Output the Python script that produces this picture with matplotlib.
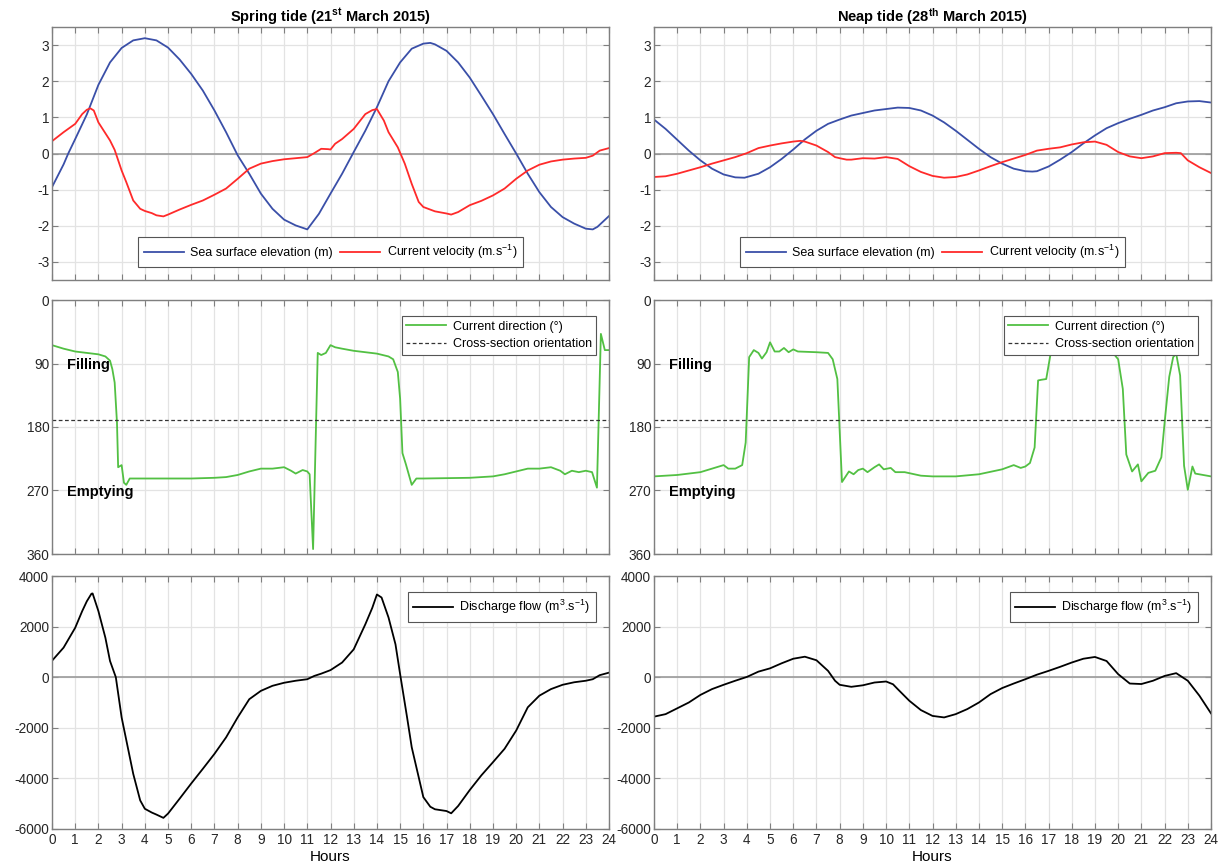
import numpy as np
import matplotlib.pyplot as plt

plt.rcParams['font.family'] = ['Liberation Sans', 'DejaVu Sans']
plt.rcParams['mathtext.fontset'] = 'custom'
plt.rcParams['mathtext.rm'] = 'Liberation Sans'
plt.rcParams['mathtext.it'] = 'Liberation Sans'
plt.rcParams['mathtext.bf'] = 'Liberation Sans:bold'
plt.rcParams['axes.unicode_minus'] = False

# ---- spring tide (21st March 2015) ----
sp_elev_t = [0, 0.5, 0.7, 1, 1.5, 2, 2.5, 3, 3.5, 4, 4.5, 5, 5.5, 6, 6.5, 7, 7.5, 8, 8.5,
             9, 9.5, 10, 10.5, 11, 11.5, 12, 12.5, 13, 13.5, 14, 14.5, 15, 15.5, 16,
             16.3, 16.5, 17, 17.5, 18, 18.5, 19, 19.5, 20, 20.5, 21, 21.5, 22, 22.5,
             23, 23.3, 23.5, 24]
sp_elev = [-0.93, -0.3, 0.0, 0.4, 1.08, 1.9, 2.52, 2.92, 3.13, 3.19, 3.13, 2.93, 2.6, 2.2,
           1.74, 1.19, 0.59, -0.05, -0.56, -1.11, -1.53, -1.83, -1.99, -2.1, -1.67, -1.11,
           -0.56, 0.04, 0.63, 1.28, 2.0, 2.52, 2.9, 3.04, 3.06, 3.02, 2.84, 2.52, 2.1, 1.6,
           1.09, 0.54, 0.0, -0.56, -1.07, -1.48, -1.76, -1.94, -2.08, -2.1, -2.03, -1.73]

sp_vel_t = [0, 0.5, 1, 1.3, 1.5, 1.65, 1.8, 2, 2.5, 2.7, 3, 3.2, 3.5, 3.8, 4, 4.3, 4.5,
            4.8, 5, 5.5, 6, 6.5, 7, 7.5, 8, 8.5, 9, 9.5, 10, 10.5, 11, 11.3, 11.6, 11.9,
            12, 12.2, 12.5, 13, 13.5, 13.8, 14, 14.3, 14.5, 14.9, 15.2, 15.5, 15.8, 16,
            16.5, 17, 17.2, 17.5, 18, 18.5, 19, 19.5, 20, 20.5, 21, 21.5, 22, 22.5, 23,
            23.3, 23.6, 24]
sp_vel = [0.34, 0.59, 0.82, 1.09, 1.21, 1.25, 1.19, 0.86, 0.36, 0.1, -0.47, -0.79, -1.3,
          -1.53, -1.59, -1.65, -1.71, -1.74, -1.69, -1.55, -1.42, -1.3, -1.14, -0.97,
          -0.7, -0.42, -0.28, -0.21, -0.16, -0.13, -0.1, 0.01, 0.13, 0.12, 0.11, 0.27,
          0.4, 0.68, 1.09, 1.2, 1.23, 0.91, 0.59, 0.17, -0.28, -0.84, -1.34, -1.48, -1.6,
          -1.66, -1.69, -1.62, -1.43, -1.31, -1.16, -0.97, -0.7, -0.47, -0.31, -0.22,
          -0.17, -0.14, -0.12, -0.06, 0.08, 0.15]

sp_dir_t = [0, 0.5, 1, 1.5, 2, 2.3, 2.5, 2.6, 2.7, 2.8, 2.85, 3, 3.1, 3.2, 3.35, 4, 5, 6,
            7, 7.5, 8, 8.5, 9, 9.5, 10, 10.3, 10.5, 10.8, 11, 11.1, 11.25, 11.45, 11.6,
            11.8, 12, 12.2, 12.5, 13, 14, 14.5, 14.7, 14.9, 15, 15.1, 15.25, 15.5, 15.7,
            16, 18, 19, 19.5, 20, 20.5, 21, 21.5, 21.9, 22.1, 22.4, 22.7, 23, 23.27,
            23.48, 23.65, 23.82, 24]
sp_dir = [64, 69, 73, 75, 77, 80, 86, 98, 117, 174, 237, 234, 259, 262, 253, 253, 253,
          253, 252, 251, 248, 243, 239, 239, 237, 242, 246, 241, 243, 247, 353, 75, 78,
          75, 64, 67, 69, 72, 76, 80, 84, 102, 140, 217, 233, 262, 253, 253, 252, 250,
          247, 243, 239, 239, 237, 242, 247, 242, 244, 242, 244, 266, 48, 71, 71]

sp_q_t = [0, 0.5, 1, 1.3, 1.5, 1.7, 1.75, 2, 2.3, 2.5, 2.75, 3, 3.5, 3.8, 4, 4.3, 4.5, 4.8,
          5, 5.5, 6, 6.5, 7, 7.5, 8, 8.5, 9, 9.5, 10, 10.5, 11, 11.3, 11.6, 12, 12.5, 13,
          13.5, 13.8, 14, 14.2, 14.5, 14.8, 15, 15.3, 15.5, 16, 16.3, 16.5, 17, 17.2,
          17.5, 18, 18.5, 19, 19.5, 20, 20.5, 21, 21.5, 22, 22.5, 23, 23.3, 23.6, 24]
sp_q = [650, 1170, 1955, 2610, 3000, 3300, 3310, 2610, 1560, 640, 0, -1590, -3820, -4870,
        -5200, -5350, -5430, -5560, -5390, -4800, -4200, -3620, -3030, -2380, -1590, -870,
        -540, -340, -220, -140, -80, 50, 140, 280, 580, 1100, 2090, 2740, 3270, 3150,
        2360, 1300, 120, -1590, -2770, -4740, -5120, -5220, -5290, -5380, -5090, -4460,
        -3880, -3360, -2830, -2110, -1190, -730, -470, -300, -200, -140, -80, 80, 180]

# ---- neap tide (28th March 2015) ----
np_elev_t = [0, 0.5, 1, 1.5, 2, 2.5, 3, 3.5, 3.9, 4.5, 5, 5.5, 6, 6.5, 7, 7.5, 8, 8.5, 9,
             9.5, 10, 10.5, 11, 11.5, 12, 12.5, 13, 13.5, 14, 14.5, 15, 15.5, 16, 16.3,
             16.5, 17, 17.5, 18, 18.5, 19, 19.5, 20, 20.5, 21, 21.5, 22, 22.5, 23, 23.5, 24]
np_elev = [0.94, 0.68, 0.38, 0.08, -0.19, -0.42, -0.58, -0.66, -0.67, -0.56, -0.38, -0.15,
           0.11, 0.39, 0.63, 0.82, 0.94, 1.05, 1.12, 1.19, 1.23, 1.27, 1.26, 1.19, 1.05,
           0.86, 0.63, 0.38, 0.13, -0.1, -0.28, -0.42, -0.49, -0.5, -0.49, -0.36, -0.17,
           0.04, 0.28, 0.5, 0.7, 0.84, 0.96, 1.07, 1.19, 1.28, 1.39, 1.44, 1.45, 1.41]

np_vel_t = [0, 0.5, 1, 1.5, 2, 2.5, 3, 3.5, 4, 4.5, 5, 5.5, 6, 6.3, 6.5, 7, 7.5, 7.8, 8,
            8.3, 8.5, 9, 9.5, 10, 10.5, 11, 11.5, 12, 12.5, 13, 13.5, 14, 14.5, 15, 15.5,
            16, 16.5, 17, 17.5, 18, 18.5, 19, 19.5, 20, 20.5, 21, 21.5, 22, 22.5, 22.7,
            23, 23.5, 24]
np_vel = [-0.65, -0.63, -0.56, -0.47, -0.38, -0.28, -0.19, -0.1, 0.01, 0.15, 0.22, 0.28,
          0.33, 0.35, 0.33, 0.22, 0.04, -0.1, -0.13, -0.17, -0.17, -0.13, -0.14, -0.1,
          -0.15, -0.35, -0.51, -0.62, -0.67, -0.65, -0.58, -0.47, -0.35, -0.24, -0.14,
          -0.04, 0.08, 0.13, 0.17, 0.25, 0.31, 0.33, 0.24, 0.04, -0.08, -0.13, -0.08, 0.01,
          0.02, 0.01, -0.19, -0.38, -0.54]

np_dir_t = [0, 1, 2, 2.5, 3, 3.2, 3.5, 3.8, 3.95, 4.1, 4.3, 4.5, 4.65, 4.85, 5, 5.2, 5.4,
            5.6, 5.8, 6, 6.2, 7, 7.5, 7.7, 7.9, 8.1, 8.4, 8.6, 8.8, 9, 9.2, 9.5, 9.7, 9.9,
            10.2, 10.4, 10.8, 11.5, 12, 13, 14, 15, 15.5, 15.8, 16, 16.2, 16.4, 16.55,
            16.7, 16.9, 17.1, 17.3, 17.5, 18, 19, 19.8, 20, 20.2, 20.35, 20.6, 20.85, 21,
            21.3, 21.6, 21.86, 22.03, 22.2, 22.37, 22.5, 22.67, 22.84, 23.0, 23.2, 23.32,
            24]
np_dir = [250, 248, 244, 239, 234, 239, 239, 234, 202, 81, 71, 75, 83, 74, 60, 73, 73, 68,
          74, 70, 73, 74, 75, 84, 112, 258, 243, 247, 241, 239, 244, 237, 233, 240, 238,
          244, 244, 249, 250, 250, 247, 240, 234, 238, 236, 231, 209, 114, 113, 112, 74,
          74, 69, 71, 74, 76, 84, 126, 219, 243, 233, 257, 245, 242, 223, 164, 109, 81,
          76, 107, 235, 269, 236, 246, 250]

np_q_t = [0, 0.5, 1, 1.5, 2, 2.5, 3, 3.5, 4, 4.5, 5, 5.5, 6, 6.5, 7, 7.5, 7.8, 8, 8.5, 9,
          9.5, 10, 10.3, 10.5, 11, 11.5, 12, 12.5, 13, 13.5, 14, 14.5, 15, 15.5, 16, 16.5,
          17, 17.5, 18, 18.5, 19, 19.5, 20, 20.5, 21, 21.5, 22, 22.5, 23, 23.5, 24]
np_q = [-1560, -1460, -1230, -1000, -700, -470, -300, -140, 10, 220, 350, 550, 730, 810,
        670, 250, -140, -300, -380, -320, -210, -170, -280, -470, -930, -1300, -1530,
        -1590, -1460, -1260, -1000, -670, -430, -250, -80, 100, 250, 410, 580, 730, 800,
        640, 120, -250, -270, -140, 50, 160, -140, -730, -1430]

cross_section = 170
hours = np.arange(0, 25)

c_blue = '#3a4fa8'
c_red = '#ff2a2a'
c_green = '#52c043'
c_axis = '#7f7f7f'

fig = plt.figure(figsize=(12.2, 8.68), dpi=100)
W, H = 1220, 868
cols = [(52, 609), (654, 1211)]
rows = [(27, 280), (300, 554), (576, 829)]


def make_ax(c, r):
    x0, x1 = cols[c]
    y0, y1 = rows[r]
    ax = fig.add_axes([x0 / W, 1 - y1 / H, (x1 - x0) / W, (y1 - y0) / H])
    ax.set_xlim(0, 24)
    ax.set_xticks(hours)
    ax.grid(True, color='#e3e3e3', lw=0.9)
    ax.set_axisbelow(True)
    for s in ax.spines.values():
        s.set_color(c_axis)
        s.set_linewidth(1.0)
    ax.tick_params(direction='in', length=4, color=c_axis, top=True, right=True,
                   labelsize=9.8, labelcolor='#262626', pad=3)
    ax.tick_params(axis='y', pad=2)
    return ax


def frame_legend(ax, **kw):
    leg = ax.legend(fontsize=9, fancybox=False, framealpha=1, edgecolor='#555555',
                    handlelength=3.2, handletextpad=0.5, **kw)
    leg.get_frame().set_linewidth(0.8)
    return leg


sets = [
    ('Spring tide (21$^{\\mathbf{st}}$ March 2015)', sp_elev_t, sp_elev, sp_vel_t, sp_vel,
     sp_dir_t, sp_dir, sp_q_t, sp_q),
    ('Neap tide (28$^{\\mathbf{th}}$ March 2015)', np_elev_t, np_elev, np_vel_t, np_vel,
     np_dir_t, np_dir, np_q_t, np_q),
]

for c, (title, et, e, vt, v, dt, d, qt, q) in enumerate(sets):
    # water level and velocity
    ax = make_ax(c, 0)
    ax.axhline(0, color='#9a9a9a', lw=1.2, zorder=1)
    ax.plot(et, e, color=c_blue, lw=1.3, label='Sea surface elevation (m)')
    ax.plot(vt, v, color=c_red, lw=1.3, label='Current velocity (m.s$^{-1}$)')
    ax.set_ylim(-3.5, 3.5)
    ax.set_yticks(range(-3, 4))
    ax.set_xticklabels([])
    ax.set_title(title, fontsize=10.5, fontweight='bold', pad=4)
    frame_legend(ax, loc='lower center', bbox_to_anchor=(0.5, 0.025), ncol=2,
                 columnspacing=0.6, borderpad=0.5)

    # direction
    ax = make_ax(c, 1)
    ax.plot(dt, d, color=c_green, lw=1.3, label='Current direction (°)')
    ax.axhline(cross_section, color='#333333', lw=0.9, ls=(0, (3, 2)),
               label='Cross-section orientation')
    ax.set_ylim(360, 0)
    ax.set_yticks([0, 90, 180, 270, 360])
    ax.set_xticklabels([])
    ax.text(0.65, 92, 'Filling', fontsize=10.5, fontweight='bold', va='center')
    ax.text(0.65, 272, 'Emptying', fontsize=10.5, fontweight='bold', va='center')
    frame_legend(ax, loc='upper right', bbox_to_anchor=(0.988, 0.96),
                 borderpad=0.35, labelspacing=0.45)

    # discharge
    ax = make_ax(c, 2)
    ax.axhline(0, color='#9a9a9a', lw=1.2, zorder=1)
    ax.plot(qt, q, color='black', lw=1.3, label='Discharge flow (m$^{3}$.s$^{-1}$)')
    ax.set_ylim(-6000, 4000)
    ax.set_yticks(range(-6000, 4001, 2000))
    ax.set_xlabel('Hours', fontsize=11, labelpad=2)
    frame_legend(ax, loc='upper right', bbox_to_anchor=(0.988, 0.96), borderpad=0.45)

fig.savefig('out.png', dpi=100)
